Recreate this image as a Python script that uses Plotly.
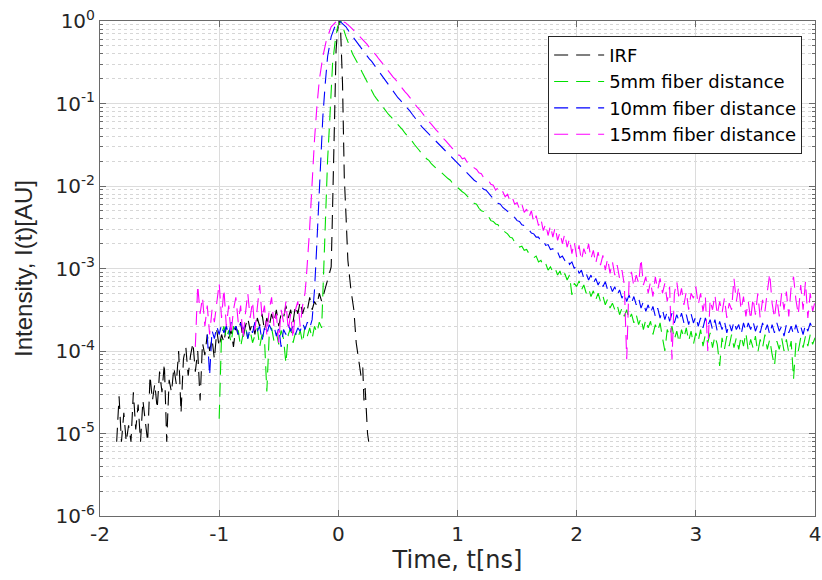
import numpy as np
import plotly.graph_objects as go

# Sampling step (ns) of the tabulated noisy segments
STEP = 0.02

# ---------------- IRF (log10 of intensity) ----------------
irf_pre_start = -1.86
irf_pre_log10 = [
    -5.1, -4.55, -5.1, -4.75, -5.1, -4.9, -5.1, -4.5, -4.95, -4.65,
    -5.1, -4.6, -4.85, -5.1, -4.3, -4.6, -4.4, -4.7, -4.25, -4.5,
    -4.15, -5.1, -4.35, -4.5, -4.2, -4.4, -4.0, -4.75, -4.1, -3.95,
    -4.3, -4.05, -3.9, -4.25, -4.0, -4.6, -3.9, -4.05, -3.8, -4.0,
    -3.85, -4.1, -3.75, -3.95, -3.8, -3.9, -3.7, -3.85, -3.75, -3.95,
    -3.7, -3.8, -3.65, -3.85, -3.7, -3.6, -3.75, -3.65, -3.8, -3.6,
    -3.7, -3.55, -3.75, -3.6, -3.7, -3.55, -3.65, -3.5, -3.7, -3.55,
    -3.6, -3.45, -3.6, -3.5, -3.65, -3.45, -3.55, -3.4, -3.55, -3.45,
    -3.5, -3.35, -3.5, -3.4, -3.45, -3.3, -3.4,
]
irf_peak_t = [-0.12, -0.10, -0.08, -0.06, -0.053, -0.047, -0.039, -0.033, -0.025, -0.019,
              -0.006, 0.008, 0.02, 0.035, 0.042, 0.05, 0.065, 0.08, 0.105, 0.13,
              0.15, 0.175, 0.19, 0.205, 0.215, 0.225, 0.235, 0.245, 0.255]
irf_peak_log10 = [-3.3, -3.2, -3.1, -2.98, -2.57, -2.09, -1.68, -1.2, -0.75, -0.35,
                  -0.11, 0.0, -0.15, -0.75, -1.28, -1.89, -2.38, -2.9, -3.25, -3.5,
                  -3.9, -4.15, -4.3, -4.2, -4.6, -4.45, -4.75, -5.0, -5.1]

# ---------------- 5 mm ----------------
g5_pre_start = -1.00
g5_pre_log10 = [
    -4.82, -3.8, -3.7, -3.85, -3.75, -3.9, -3.7, -3.8, -3.75, -3.95,
    -3.8, -3.7, -3.85, -3.75, -3.9, -3.8, -3.72, -3.95, -3.8, -3.85,
    -4.49, -3.8, -3.72, -3.88, -3.78, -3.92, -3.75, -3.85, -4.15, -3.8,
    -3.72, -3.9, -3.78, -3.85, -3.75, -3.9, -3.7, -3.82, -3.72, -3.85,
    -3.7, -3.78, -3.65, -3.72,
]
g5_peak_t = [-0.13, -0.117, -0.11, -0.103, -0.09, -0.075, -0.06, -0.048, -0.025, -0.006,
             0.022, 0.064, 0.12]
g5_peak_log10 = [-3.3, -2.9, -2.49, -2.09, -1.68, -1.28, -0.88, -0.51, -0.23, -0.07,
                 0.0, -0.19, -0.4]
g5_post_start = 0.14
g5_post_log10 = [
    -0.45, -0.50, -0.56, -0.62, -0.68, -0.74, -0.80, -0.85, -0.90, -0.94,
    -0.98, -1.02, -1.06, -1.10, -1.13, -1.16, -1.19, -1.22, -1.25, -1.29,
    -1.32, -1.36, -1.39, -1.43, -1.46, -1.50, -1.53, -1.57, -1.61, -1.63,
    -1.67, -1.69, -1.73, -1.76, -1.78, -1.81, -1.83, -1.86, -1.88, -1.91,
    -1.93, -1.97, -1.99, -2.02, -2.04, -2.07, -2.09, -2.12, -2.15, -2.17,
    -2.21, -2.22, -2.27, -2.30, -2.31, -2.36, -2.37, -2.42, -2.43, -2.46,
    -2.47, -2.52, -2.53, -2.56, -2.58, -2.62, -2.63, -2.68, -2.69, -2.74,
    -2.73, -2.78, -2.77, -2.82, -2.83, -2.87, -2.85, -2.92, -2.90, -2.97,
    -2.94, -3.02, -2.98, -3.04, -3.0, -3.08, -3.03, -3.12, -3.06, -3.14,
    -3.08, -3.32, -3.18, -3.22, -3.15, -3.26, -3.2, -3.3, -3.24, -3.34,
    -3.27, -3.38, -3.3, -3.4, -3.33, -3.44, -3.37, -3.48, -3.42, -3.5,
    -3.44, -3.56, -3.48, -3.58, -3.5, -3.62, -3.55, -3.66, -3.56, -3.68,
    -3.6, -3.74, -3.62, -3.72, -3.64, -3.8, -3.68, -3.76, -3.66, -3.84,
    -4.0, -3.74, -3.82, -3.7, -3.86, -3.76, -3.9, -3.74, -3.84, -3.72,
    -3.88, -3.76, -3.92, -3.78, -3.88, -3.74, -3.94, -3.8, -3.9, -3.78,
    -3.96, -3.82, -3.92, -4.18, -3.84, -3.98, -3.82, -3.94, -3.8, -3.96,
    -3.84, -3.98, -3.82, -3.94, -3.78, -4.0, -3.86, -3.96, -3.82, -4.02,
    -3.86, -3.96, -3.8, -3.98, -3.86, -4.04, -4.18, -3.88, -3.98, -3.84,
    -4.0, -3.86, -4.02, -3.88, -4.34, -3.9, -4.0, -3.84, -3.96, -3.82,
    -3.94, -3.8, -3.92, -3.84,
]

# ---------------- 10 mm ----------------
b10_pre_start = -1.10
b10_pre_log10 = [
    -3.8, -4.3, -3.75, -3.85, -3.7, -3.8, -3.68, -3.78, -3.7, -3.82,
    -3.65, -3.75, -3.7, -3.8, -3.66, -3.74, -3.68, -3.85, -3.72, -3.78,
    -3.65, -3.76, -3.7, -3.88, -3.72, -3.8, -3.68, -3.75, -3.7, -3.82,
    -3.72, -3.95, -3.74, -3.8, -3.68, -3.76, -3.7, -3.8, -3.72, -3.76,
    -3.66, -3.74, -3.65, -3.72, -3.62,
]
b10_peak_t = [-0.2, -0.187, -0.173, -0.16, -0.145, -0.13, -0.11, -0.09, -0.06, -0.02,
              0.01, 0.064, 0.1]
b10_peak_log10 = [-3.26, -2.9, -2.49, -2.01, -1.56, -1.16, -0.76, -0.43, -0.19, -0.03,
                  0.0, -0.07, -0.15]
b10_post_start = 0.12
b10_post_log10 = [
    -0.19, -0.23, -0.27, -0.31, -0.35, -0.39, -0.42, -0.46, -0.49, -0.53,
    -0.57, -0.61, -0.65, -0.70, -0.74, -0.78, -0.82, -0.85, -0.89, -0.93,
    -0.96, -0.99, -1.02, -1.05, -1.09, -1.13, -1.17, -1.21, -1.24, -1.28,
    -1.31, -1.34, -1.37, -1.40, -1.43, -1.46, -1.49, -1.52, -1.55, -1.58,
    -1.61, -1.63, -1.67, -1.69, -1.72, -1.75, -1.79, -1.81, -1.85, -1.88,
    -1.90, -1.93, -1.95, -1.98, -2.0, -2.04, -2.05, -2.09, -2.12, -2.15,
    -2.17, -2.21, -2.22, -2.26, -2.28, -2.31, -2.33, -2.37, -2.38, -2.42,
    -2.43, -2.47, -2.48, -2.52, -2.53, -2.57, -2.58, -2.62, -2.62, -2.67,
    -2.66, -2.72, -2.71, -2.77, -2.76, -2.82, -2.8, -2.87, -2.85, -2.9,
    -2.87, -2.95, -2.92, -3.0, -2.96, -3.06, -3.02, -3.12, -3.06, -3.14,
    -3.08, -3.18, -3.12, -3.2, -3.14, -3.22, -3.16, -3.26, -3.2, -3.28,
    -3.22, -3.32, -3.26, -3.36, -3.3, -3.4, -3.32, -3.42, -3.34, -3.44,
    -3.36, -3.48, -3.4, -3.52, -3.44, -3.54, -3.46, -3.58, -3.48, -3.6,
    -3.5, -3.62, -3.52, -3.64, -3.54, -3.66, -3.56, -3.64, -3.54, -3.66,
    -3.56, -3.68, -3.55, -3.66, -3.58, -3.7, -3.6, -3.72, -3.6, -3.7,
    -3.62, -3.74, -3.62, -3.76, -3.64, -3.74, -3.64, -3.78, -3.66, -3.76,
    -3.64, -3.74, -3.68, -3.8, -3.66, -3.76, -3.66, -3.74, -3.64, -3.76,
    -3.68, -3.78, -3.66, -3.76, -3.68, -3.8, -3.68, -3.78, -3.66, -3.76,
    -3.7, -3.82, -3.68, -3.78, -3.7, -3.8, -3.68, -3.78, -3.7, -3.8,
    -3.68, -3.76, -3.66, -3.74, -3.7,
]

# ---------------- 15 mm ----------------
m15_pre_start = -1.20
m15_pre_log10 = [
    -3.95, -3.2, -3.55, -3.35, -3.7, -3.45, -3.8, -3.5, -3.65, -3.4,
    -3.18, -3.6, -3.25, -3.7, -3.45, -3.8, -3.5, -3.35, -3.65, -3.45,
    -3.85, -3.55, -3.3, -3.6, -3.4, -3.75, -3.5, -3.2, -3.6, -3.45,
    -3.8, -3.5, -3.35, -3.7, -3.55, -3.9, -3.5, -3.65, -3.4, -3.75,
    -3.55, -3.85, -3.5, -3.4, -3.7, -3.45, -3.3,
]
m15_peak_t = [-0.27, -0.243, -0.23, -0.215, -0.2, -0.18, -0.16, -0.13, -0.10, -0.06,
              -0.02, 0.02, 0.06, 0.1]
m15_peak_log10 = [-3.14, -2.57, -2.17, -1.77, -1.44, -1.04, -0.72, -0.43, -0.23, -0.07,
                  -0.01, 0.0, -0.02, -0.07]
m15_post_start = 0.12
m15_post_log10 = [
    -0.10, -0.12, -0.15, -0.18, -0.21, -0.25, -0.28, -0.32, -0.35, -0.39,
    -0.42, -0.46, -0.49, -0.53, -0.57, -0.61, -0.64, -0.68, -0.71, -0.75,
    -0.79, -0.82, -0.86, -0.89, -0.93, -0.97, -1.0, -1.04, -1.07, -1.11,
    -1.15, -1.18, -1.22, -1.25, -1.29, -1.32, -1.35, -1.39, -1.42, -1.45,
    -1.48, -1.52, -1.55, -1.59, -1.62, -1.63, -1.67, -1.66, -1.71, -1.72,
    -1.74, -1.78, -1.8, -1.84, -1.85, -1.9, -1.92, -1.93, -1.98, -1.99,
    -2.05, -2.02, -2.08, -2.07, -2.13, -2.1, -2.18, -2.14, -2.22, -2.2,
    -2.28, -2.22, -2.32, -2.28, -2.38, -2.3, -2.44, -2.36, -2.48, -2.4,
    -2.54, -2.46, -2.6, -2.48, -2.62, -2.5, -2.66, -2.56, -2.7, -2.58,
    -2.74, -2.64, -2.82, -2.68, -2.86, -2.72, -2.9, -2.76, -2.84, -2.7,
    -2.88, -2.78, -2.94, -2.8, -2.96, -2.84, -3.02, -2.88, -3.06, -2.92,
    -3.08, -2.96, -3.12, -3.02, -3.2, -4.1, -3.14, -3.04, -3.22, -3.08,
    -3.18, -2.88, -3.2, -3.1, -3.3, -3.16, -3.34, -3.1, -3.26, -3.12,
    -3.3, -3.18, -3.4, -3.22, -4.1, -3.3, -3.16, -3.38, -3.24, -3.44,
    -3.28, -3.5, -3.3, -3.36, -3.22, -3.44, -3.3, -3.52, -3.34, -4.0,
    -3.38, -3.5, -3.32, -3.56, -3.4, -3.54, -3.36, -3.6, -3.42, -3.5,
    -3.12, -3.4, -3.22, -3.5, -3.34, -3.58, -3.4, -3.62, -3.36, -3.56,
    -3.3, -3.6, -3.38, -3.52, -3.28, -3.06, -3.42, -3.6, -3.36, -3.58,
    -3.3, -3.5, -3.28, -3.58, -3.22, -3.1, -3.38, -3.56, -3.2, -3.5,
    -3.16, -3.6, -3.3, -3.52, -3.4,
]

series_names = ["IRF", "5mm fiber distance", "10mm fiber distance", "15mm fiber distance"]
series_colors = ["#000000", "#00e000", "#0000ff", "#ff00ff"]

y_tick_vals = [1e-6, 1e-5, 1e-4, 1e-3, 1e-2, 1e-1, 1e0]
y_tick_text = ["10<sup>-6</sup>", "10<sup>-5</sup>", "10<sup>-4</sup>", "10<sup>-3</sup>",
               "10<sup>-2</sup>", "10<sup>-1</sup>", "10<sup>0</sup>"]
x_tick_vals = [-2, -1, 0, 1, 2, 3, 4]
x_tick_text = ["-2", "-1", "0", "1", "2", "3", "4"]


def assemble(pre_start, pre, peak_t, peak, post_start=None, post=None):
    t = [pre_start + STEP * i for i in range(len(pre))] + list(peak_t)
    v = list(pre) + list(peak)
    if post is not None:
        t += [post_start + STEP * i for i in range(len(post))]
        v += list(post)
    return np.round(np.array(t), 4), np.power(10.0, np.array(v))


data = [
    assemble(irf_pre_start, irf_pre_log10, irf_peak_t, irf_peak_log10),
    assemble(g5_pre_start, g5_pre_log10, g5_peak_t, g5_peak_log10, g5_post_start, g5_post_log10),
    assemble(b10_pre_start, b10_pre_log10, b10_peak_t, b10_peak_log10, b10_post_start, b10_post_log10),
    assemble(m15_pre_start, m15_pre_log10, m15_peak_t, m15_peak_log10, m15_post_start, m15_post_log10),
]

WIDE = "DejaVu Sans, Verdana, sans-serif"
NARROW = "Liberation Sans, Arial, Helvetica, sans-serif"

fig = go.Figure()
for (t, y), name, color in zip(data, series_names, series_colors):
    fig.add_trace(go.Scatter(
        x=t, y=y, mode="lines", name=name,
        line=dict(color=color, width=1.1, dash="14px,8px"),
    ))

axis_common = dict(
    showline=True, linecolor="#6a6a6a", linewidth=1, mirror="allticks",
    ticks="inside", ticklen=6, tickcolor="#6a6a6a",
    showgrid=True, gridcolor="#dcdcdc", gridwidth=1, zeroline=False,
    tickfont=dict(family=WIDE, size=20, color="#262626"),
    ticklabeloverflow="allow", automargin=False,
)

fig.update_layout(
    width=822, height=580,
    margin=dict(l=100, r=7, t=21, b=64, autoexpand=False),
    paper_bgcolor="white", plot_bgcolor="white",
    font=dict(family=WIDE, color="#262626"),
    showlegend=True,
    legend=dict(
        x=0.982, xanchor="right", y=0.97, yanchor="top",
        bgcolor="white", bordercolor="#262626", borderwidth=1,
        font=dict(family=WIDE, size=18, color="#000000"),
        tracegroupgap=0, itemwidth=50,
    ),
    xaxis=dict(
        axis_common, range=[-2, 4], tickmode="array", tickvals=x_tick_vals, ticktext=x_tick_text,
        title=dict(text="Time, t[ns]", font=dict(family=WIDE, size=24, color="#262626"), standoff=0),
    ),
    yaxis=dict(
        axis_common, type="log", range=[-6, 0], tickmode="array",
        tickvals=y_tick_vals, ticktext=y_tick_text,
        minor=dict(ticks="inside", ticklen=3, tickcolor="#6a6a6a", dtick="D1",
                   showgrid=True, gridcolor="#d6d6d6", griddash="dot", gridwidth=1),
        title=dict(text="Intensity, I(t)[AU]", font=dict(family=NARROW, size=24, color="#262626"), standoff=16),
    ),
)

fig.write_html("out.html", config={"displayModeBar": False})
